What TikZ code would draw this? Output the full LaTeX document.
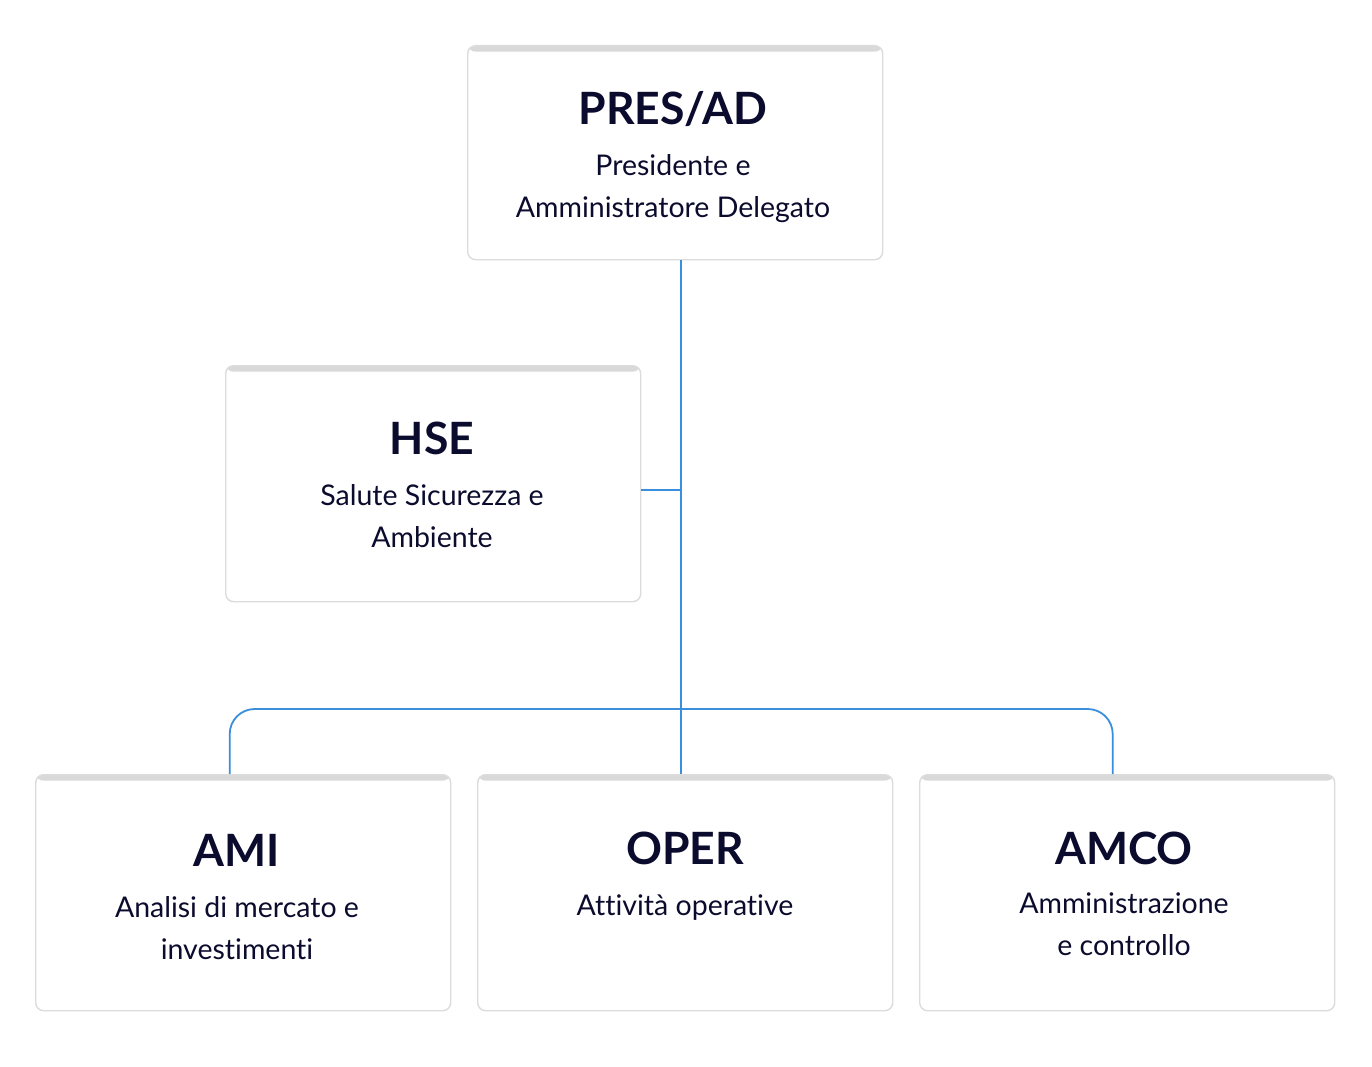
\documentclass[tikz,border=0pt]{standalone}
\usepackage{fontspec}
\setmainfont{Lato}[RawFeature=-liga]
\definecolor{boxgray}{HTML}{D9D9D9}
\definecolor{linegray}{HTML}{DCDCDC}
\definecolor{connblue}{HTML}{3A8EDB}
\definecolor{txt}{HTML}{0B0B2E}
\begin{document}
\begin{tikzpicture}[x=1pt,y=-1pt,
  orgbox/.style={rectangle, rounded corners=8pt, draw=linegray, line width=1.4pt, fill=white,
    minimum width=415pt, minimum height=236pt, inner sep=0pt, anchor=north west,
    path picture={\fill[boxgray] (path picture bounding box.north west) rectangle ([yshift=-6pt]path picture bounding box.north east);}},
  ttl/.style={anchor=base, text=txt, font=\fontsize{44.5}{50}\selectfont\bfseries, inner sep=0pt},
  sub/.style={anchor=base, text=txt, align=center, font=\fontsize{28.5}{42}\selectfont, inner sep=0pt},
  conn/.style={draw=connblue, line width=1.8pt}]
\useasboundingbox (0,0) rectangle (1372,1067);
\fill[white] (0,0) rectangle (1372,1067);
% boxes
\node[orgbox, minimum height=214pt] (pres) at (467,45) {};
\node[orgbox] (hse) at (225,365) {};
\node[orgbox] (ami) at (35,774) {};
\node[orgbox] (oper) at (477,774) {};
\node[orgbox] (amco) at (919,774) {};
% texts (sub anchor = baseline of last line)
\node[ttl] (presT) at (673,125) {PRES/AD};
\node[sub] (presS) at (673,218) {Presidente e\\Amministratore Delegato};
\node[ttl] (hseT) at (432,454) {HSE};
\node[sub] (hseS) at (432,547) {Salute Sicurezza e\\Ambiente};
\node[ttl] (amiT) at (237,866) {AMI};
\node[sub] (amiS) at (237,959) {Analisi di mercato e\\investimenti};
\node[ttl] (operT) at (685,864) {OPER};
\node[sub] (operS) at (685,915) {Attività operative};
\node[ttl] (amcoT) at (1124,864) {AMCO};
\node[sub] (amcoS) at (1124,955) {Amministrazione\\e controllo};
% connector coordinates
\coordinate (spineTop) at ([xshift=5.5pt]pres.south);
\coordinate (spineBot) at (spineTop |- oper.north);
\coordinate (hseE) at ([yshift=-6pt]hse.east);
\coordinate (hseJ) at (spineTop |- hseE);
\coordinate (amiTop) at ([xshift=-13.5pt]ami.north);
\coordinate (amcoTop) at ([xshift=-14.5pt]amco.north);
\coordinate (busL) at (amiTop |- 0,709);
\coordinate (busR) at (amcoTop |- 0,709);
% connectors
\draw[conn] (spineTop) -- (spineBot);
\draw[conn] (hseE) -- (hseJ);
\draw[conn, rounded corners=25pt] (amiTop) -- (busL) -- (busR) -- (amcoTop);
\end{tikzpicture}
\end{document}
